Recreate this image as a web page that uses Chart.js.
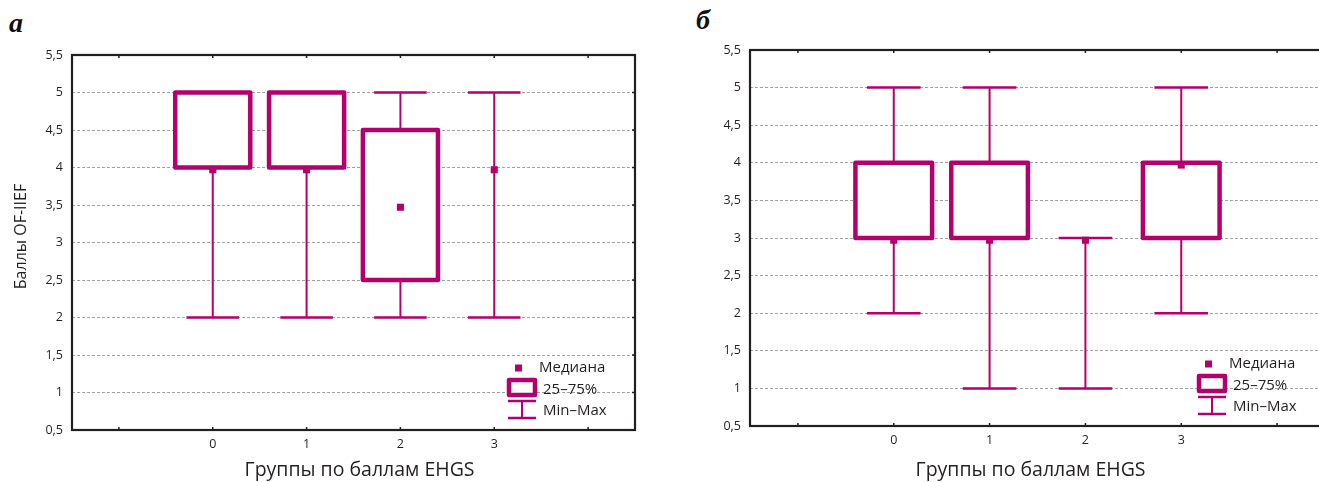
<!DOCTYPE html>
<html>
<head>
<meta charset="utf-8">
<script src="https://cdn.jsdelivr.net/npm/chart.js@4.4.0/dist/chart.umd.min.js"></script>
<style>
html, body { margin: 0; padding: 0; background: #fff; overflow: hidden; width: 1319px; height: 482px; }
.panel { position: absolute; top: 0; height: 482px; }
.lbl { position: absolute; font-family: "Liberation Serif", serif; font-weight: bold; font-style: italic; font-size: 28px; color: #111; line-height: 1; }
</style>
</head>
<body>
<div class="lbl" style="left:9px;top:9px">а</div>
<div class="lbl" style="left:696px;top:6px">б</div>
<div class="panel" style="left:0;width:660px"><canvas id="chartA"></canvas></div>
<div class="panel" style="left:660px;width:670px"><canvas id="chartB"></canvas></div>
<script>
// groups on the x axis
var categories = ['0', '1', '2', '3'];
var xTickValues = [-1, 0, 1, 2, 3, 4];

// panel а: Баллы OF-IIEF
var minA = [2, 2, 2, 2];
var q1A = [4, 4, 2.5, 4];
var medA = [3.97, 3.97, 3.47, 3.97];
var q3A = [5, 5, 4.5, 4];
var maxA = [5, 5, 5, 5];

// panel б
var minB = [2, 1, 1, 2];
var q1B = [3, 3, 3, 3];
var medB = [2.97, 2.97, 2.97, 3.97];
var q3B = [4, 4, 3, 4];
var maxB = [5, 5, 3, 5];

var yMin = 0.5, yMax = 5.5, yStep = 0.5;
var xTitle = 'Группы по баллам EHGS';
var yTitleA = 'Баллы OF-IIEF';
var legendLabels = ['Медиана', '25–75%', 'Min–Max'];

var MAGENTA = '#b3006c';
var INK = '#231f20';
var FONT = '"Open Sans", sans-serif';

Chart.defaults.font.family = FONT;
Chart.defaults.color = INK;

// whiskers and boxes under the medians, frame, titles and legend on top
var boxPlotPlugin = {
	id: 'boxPlot',
	beforeDatasetsDraw: function(chart) {
		var o = chart.options.plugins.boxPlot;
		var ctx = chart.ctx, xs = chart.scales.x, ys = chart.scales.y;
		ctx.save();
		ctx.strokeStyle = MAGENTA;
		for (var i = 0; i < o.min.length; i++) {
			var x = xs.getPixelForValue(i);
			var half = xs.getPixelForValue(i + o.capWidth / 2) - x;
			var yLo = ys.getPixelForValue(o.min[i]);
			var yHi = ys.getPixelForValue(o.max[i]);
			ctx.lineWidth = 2;
			ctx.beginPath();
			ctx.moveTo(x, yLo);
			ctx.lineTo(x, yHi);
			ctx.stroke();
			ctx.lineWidth = 2.5;
			ctx.beginPath();
			ctx.moveTo(x - half, yLo); ctx.lineTo(x + half, yLo);
			ctx.moveTo(x - half, yHi); ctx.lineTo(x + half, yHi);
			ctx.stroke();
		}
		// 25-75% boxes; a box with no height is not drawn in the original
		for (var j = 0; j < o.q1.length; j++) {
			if (!(o.q3[j] > o.q1[j])) continue;
			var bx = xs.getPixelForValue(j);
			var bh = xs.getPixelForValue(j + o.boxWidth / 2) - bx;
			var top = ys.getPixelForValue(o.q3[j]);
			var bot = ys.getPixelForValue(o.q1[j]);
			ctx.fillStyle = '#ffffff';
			ctx.fillRect(bx - bh, top, 2 * bh, bot - top);
			ctx.lineWidth = 4.5;
			ctx.lineJoin = 'round';
			ctx.strokeRect(bx - bh, top, 2 * bh, bot - top);
		}
		ctx.restore();
	},
	afterDraw: function(chart) {
		var o = chart.options.plugins.boxPlot;
		var ctx = chart.ctx, a = chart.chartArea;
		var xs = chart.scales.x, ys = chart.scales.y;
		ctx.save();

		// frame
		ctx.strokeStyle = INK;
		ctx.lineWidth = 2.2;
		ctx.strokeRect(a.left, a.top, a.right - a.left, a.bottom - a.top);

		// small inner tick marks
		ctx.lineWidth = 1.5;
		ctx.beginPath();
		for (var i = 0; i < xTickValues.length; i++) {
			var tx = xs.getPixelForValue(xTickValues[i]);
			ctx.moveTo(tx, a.top); ctx.lineTo(tx, a.top + 3);
			ctx.moveTo(tx, a.bottom); ctx.lineTo(tx, a.bottom - 3);
		}
		for (var v = yMin + yStep; v < yMax; v += yStep) {
			var ty = ys.getPixelForValue(v);
			ctx.moveTo(a.right, ty); ctx.lineTo(a.right - 3, ty);
		}
		ctx.stroke();

		// axis titles
		ctx.fillStyle = INK;
		ctx.textAlign = 'center';
		ctx.textBaseline = 'alphabetic';
		ctx.font = '19.5px ' + FONT;
		ctx.fillText(xTitle, (a.left + a.right) / 2 + o.titleShift, 476);
		if (o.yTitle) {
			ctx.save();
			ctx.translate(26, (a.top + a.bottom) / 2 - 6);
			ctx.rotate(-Math.PI / 2);
			ctx.font = '16px ' + FONT;
			ctx.fillText(o.yTitle, 0, 0);
			ctx.restore();
		}

		// legend
		var lx = a.right - 128, ly = a.bottom - 62;
		ctx.fillStyle = MAGENTA;
		ctx.fillRect(lx + 8, ly - 3.5, 7, 7);
		ctx.fillStyle = '#ffffff';
		ctx.fillRect(lx + 2, ly + 12, 26, 15);
		ctx.strokeStyle = MAGENTA;
		ctx.lineWidth = 4.5;
		ctx.lineJoin = 'round';
		ctx.strokeRect(lx + 2, ly + 12, 26, 15);
		ctx.lineWidth = 2.5;
		ctx.beginPath();
		ctx.moveTo(lx + 1, ly + 33); ctx.lineTo(lx + 29, ly + 33);
		ctx.moveTo(lx + 1, ly + 50); ctx.lineTo(lx + 29, ly + 50);
		ctx.stroke();
		ctx.lineWidth = 2;
		ctx.beginPath();
		ctx.moveTo(lx + 15, ly + 33); ctx.lineTo(lx + 15, ly + 50);
		ctx.stroke();

		ctx.fillStyle = INK;
		ctx.font = '15px ' + FONT;
		ctx.textAlign = 'left';
		ctx.textBaseline = 'middle';
		ctx.fillText(legendLabels[0], lx + 32, ly);
		ctx.fillText(legendLabels[1], lx + 36, ly + 22);
		ctx.fillText(legendLabels[2], lx + 36, ly + 43);
		ctx.restore();
	}
};

function makeChart(id, mins, q1s, meds, q3s, maxs, opts) {
	var medians = [];
	for (var i = 0; i < categories.length; i++) {
		medians.push({ x: i, y: meds[i] });
	}

	return new Chart(document.getElementById(id), {
		type: 'scatter',
		data: {
			datasets: [{
				data: medians,
				pointStyle: 'rect',
				pointRadius: 5,
				pointBorderWidth: 0,
				backgroundColor: MAGENTA
			}]
		},
		options: {
			responsive: true,
			maintainAspectRatio: false,
			animation: false,
			layout: { padding: opts.padding },
			plugins: {
				legend: { display: false },
				tooltip: { enabled: false },
				boxPlot: {
					min: mins, q1: q1s, q3: q3s, max: maxs,
					capWidth: 0.56, boxWidth: 0.8,
					titleShift: opts.titleShift, yTitle: opts.yTitle
				}
			},
			scales: {
				x: {
					type: 'linear',
					min: -1.5,
					max: 4.5,
					afterBuildTicks: function(s) {
						s.ticks = xTickValues.map(function(v) { return { value: v }; });
					},
					afterFit: function(s) { s.height = opts.xHeight; },
					ticks: {
						autoSkip: false,
						maxRotation: 0,
						padding: 7,
						font: { size: 12.5 },
						callback: function(v) { return categories[v] !== undefined ? categories[v] : ''; }
					},
					grid: { display: false, drawTicks: false },
					border: { display: false }
				},
				y: {
					min: yMin,
					max: yMax,
					afterFit: function(s) { s.width = opts.yWidth; },
					ticks: {
						stepSize: yStep,
						padding: 9,
						font: { size: 12.5 },
						callback: function(v) { return String(v).replace('.', ','); }
					},
					grid: {
						drawTicks: false,
						lineWidth: 1,
						color: function(c) {
							var v = c.tick.value;
							return (v <= yMin || v >= yMax) ? 'rgba(0,0,0,0)' : '#a0a0a0';
						}
					},
					border: { display: false, dash: [3, 2] }
				}
			}
		},
		plugins: [boxPlotPlugin]
	});
}

makeChart('chartA', minA, q1A, medA, q3A, maxA, {
	padding: { top: 55, right: 25, left: 0, bottom: 0 },
	xHeight: 52, yWidth: 72, yTitle: yTitleA, titleShift: 6
});
makeChart('chartB', minB, q1B, medB, q3B, maxB, {
	padding: { top: 50, right: 3, left: 0, bottom: 0 },
	xHeight: 56, yWidth: 90, titleShift: -7
});
</script>
</body>
</html>
